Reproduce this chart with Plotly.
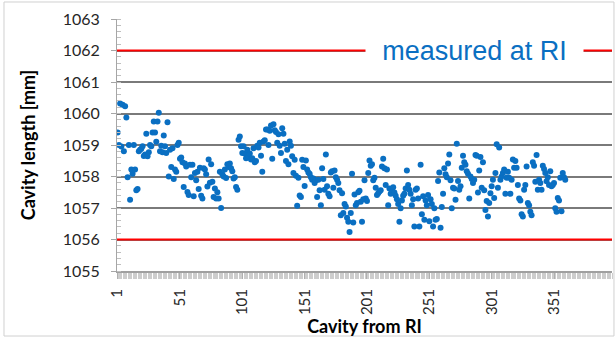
import plotly.graph_objects as go

# Cavity length readings [mm], cavity index 1..360
cavity_len_001_050 = [
    1059.40, 1059.00, 1060.32, 1058.95, 1060.28, 1058.80, 1060.23, 1059.87, 1057.98, 1059.00,
    1057.26, 1058.22, 1058.09, 1059.00, 1058.22, 1057.56, 1057.60, 1058.80, 1058.85, 1058.88,
    1058.96, 1058.65, 1058.70, 1059.36, 1058.64, 1058.77, 1059.00, 1058.96, 1059.40, 1059.75,
    1059.40, 1059.10, 1059.75, 1060.02, 1058.80, 1058.98, 1058.77, 1059.30, 1058.96, 1058.75,
    1059.72, 1058.00, 1058.85, 1058.30, 1058.90, 1057.92, 1058.22, 1058.15, 1059.00, 1059.07,
]
cavity_len_051_090 = [
    1058.56, 1058.60, 1058.45, 1057.67, 1058.41, 1058.32, 1057.51, 1057.41, 1058.37, 1057.98,
    1058.37, 1057.37, 1058.11, 1057.88, 1058.15, 1057.60, 1058.28, 1057.39, 1057.30, 1058.26,
    1058.22, 1058.07, 1057.68, 1058.54, 1057.80, 1058.39, 1057.83, 1057.35, 1057.62, 1057.30,
    1057.50, 1057.30, 1058.15, 1057.00, 1058.07, 1058.00, 1058.22, 1057.95, 1058.39, 1058.30,
]
cavity_len_091_140 = [
    1058.41, 1058.26, 1058.17, 1057.94, 1057.98, 1057.67, 1057.58, 1059.17, 1059.27, 1058.96,
    1058.75, 1058.96, 1058.73, 1058.58, 1058.85, 1058.60, 1058.73, 1058.54, 1058.58, 1058.90,
    1058.45, 1058.49, 1058.98, 1058.92, 1059.07, 1058.66, 1058.15, 1059.11, 1059.15, 1059.49,
    1059.49, 1059.00, 1059.45, 1059.62, 1058.56, 1059.66, 1059.47, 1059.41, 1059.07, 1059.34,
    1058.98, 1058.75, 1059.53, 1059.36, 1059.04, 1058.49, 1058.85, 1058.39, 1059.11, 1058.98,
]
cavity_len_141_185 = [
    1058.64, 1058.11, 1058.53, 1058.02, 1057.07, 1057.96, 1057.40, 1057.35, 1058.53, 1058.30,
    1057.70, 1058.51, 1058.22, 1058.13, 1058.09, 1057.98, 1057.90, 1057.94, 1057.79, 1057.88,
    1057.35, 1057.90, 1057.56, 1057.09, 1058.26, 1057.92, 1057.58, 1058.70, 1057.69, 1057.45,
    1057.37, 1058.13, 1058.17, 1057.64, 1058.19, 1057.98, 1057.90, 1057.79, 1057.56, 1056.77,
    1057.47, 1056.84, 1057.13, 1057.05, 1056.69,
]
cavity_len_186_235 = [
    1056.56, 1056.24, 1056.84, 1058.09, 1056.54, 1057.43, 1057.09, 1057.16, 1057.50, 1057.55,
    1057.20, 1056.56, 1057.28, 1057.88, 1057.30, 1057.22, 1058.11, 1058.51, 1058.34, 1058.39,
    1057.88, 1057.96, 1057.64, 1057.41, 1057.47, 1057.52, 1057.56, 1058.32, 1058.56, 1058.26,
    1057.73, 1058.22, 1057.09, 1057.62, 1057.45, 1057.58, 1057.66, 1057.49, 1057.39, 1057.28,
    1057.13, 1056.56, 1056.99, 1057.24, 1057.39, 1057.45, 1057.62, 1058.19, 1057.73, 1057.58,
]
cavity_len_236_284 = [
    1057.45, 1057.09, 1057.28, 1056.41, 1057.58, 1057.62, 1057.30, 1056.41, 1058.37, 1056.80,
    1057.37, 1056.63, 1057.24, 1057.09, 1057.41, 1056.58, 1057.28, 1057.13, 1056.41, 1056.99,
    1056.63, 1056.65, 1057.86, 1058.13, 1056.37, 1057.03, 1057.45, 1058.26, 1058.07, 1057.98,
    1058.41, 1058.70, 1057.88, 1056.99, 1057.64, 1057.62, 1057.26, 1059.04, 1057.86, 1057.58,
    1057.69, 1058.28, 1058.66, 1058.45, 1058.37, 1058.17, 1058.09, 1057.30, 1058.00,
]
cavity_len_285_331 = [
    1057.92, 1057.79, 1057.90, 1058.68, 1058.66, 1057.49, 1058.19, 1058.62, 1057.64, 1058.45,
    1057.56, 1056.94, 1057.22, 1056.73, 1057.16, 1057.47, 1057.69, 1057.90, 1057.32, 1058.11,
    1059.02, 1057.64, 1058.92, 1057.90, 1058.00, 1058.11, 1058.22, 1057.45, 1057.96, 1058.15,
    1057.96, 1057.45, 1057.90, 1058.54, 1058.28, 1058.49, 1058.28, 1057.73, 1057.30, 1057.24,
    1056.80, 1056.73, 1057.58, 1057.73, 1058.32, 1057.16, 1057.09,
]
cavity_len_332_360 = [
    1056.88, 1056.77, 1058.45, 1058.34, 1057.83, 1058.68, 1057.58, 1057.90, 1057.79, 1057.58,
    1058.34, 1058.24, 1058.11, 1057.85, 1057.98, 1057.73, 1058.17, 1057.69, 1057.73, 1057.79,
    1056.99, 1056.88, 1057.32, 1057.24, 1057.96, 1056.90, 1058.11, 1057.98, 1057.90,
]

cavity_length = (cavity_len_001_050 + cavity_len_051_090 + cavity_len_091_140 +
                 cavity_len_141_185 + cavity_len_186_235 + cavity_len_236_284 +
                 cavity_len_285_331 + cavity_len_332_360)
cavity_index = list(range(1, len(cavity_length) + 1))

x_tick_vals = [1, 51, 101, 151, 201, 251, 301, 351]
x_tick_text = ["1", "51", "101", "151", "201", "251", "301", "351"]
y_tick_vals = [1055, 1056, 1057, 1058, 1059, 1060, 1061, 1062, 1063]
limit_values = [1056, 1062]
label_text = "measured at RI"
x_title = "Cavity from RI"
y_title = "Cavity length [mm]"

BLUE = "#0a6fc2"
FONT = "Lato"

fig = go.Figure()
fig.add_trace(go.Scatter(
    x=cavity_index, y=cavity_length, mode="markers",
    marker=dict(color=BLUE, size=6, line=dict(width=0)),
    showlegend=False, hoverinfo="x+y",
))

for lim in limit_values:
    fig.add_shape(type="line", xref="paper", x0=0, x1=1, yref="y", y0=lim, y1=lim,
                  line=dict(color="#ff0000", width=2), layer="above")

# outer chart frame
fig.add_shape(type="rect", xref="paper", yref="paper",
              x0=-0.2283, x1=1.0040, y0=-0.2580, y1=1.0675,
              line=dict(color="#d0d0d0", width=1), layer="above")

fig.add_annotation(
    x=0.7232, xref="paper", xanchor="center", y=limit_values[1], yref="y", yanchor="middle",
    text=label_text, showarrow=False,
    font=dict(family="Liberation Sans, Arial", size=27, color=BLUE),
    bgcolor="white", width=213, height=30, borderpad=2, align="center",
)

fig.update_layout(
    width=616, height=338,
    margin=dict(l=117, r=4, t=19, b=67),
    paper_bgcolor="white", plot_bgcolor="white",
    font=dict(family=FONT, color="#262626"),
    xaxis=dict(
        range=[0.5, 397.5], tickmode="array", tickvals=x_tick_vals, ticktext=x_tick_text,
        tickangle=-90, tickfont=dict(family=FONT, size=15, color="#262626"),
        showgrid=False, zeroline=False,
        showline=True, linecolor="#a0a0a0", linewidth=2,
        ticks="outside", ticklen=6, tickcolor="#b0b0b0", tickwidth=1,
        minor=dict(ticks="outside", tickmode="linear", tick0=0.5, dtick=1,
                   ticklen=6, tickcolor="#cdcdcd", tickwidth=1, showgrid=False),
        ticklabelstandoff=4,
        title=dict(text="<b>" + x_title + "</b>", font=dict(family=FONT, size=18, color="#000000"),
                   standoff=2),
    ),
    yaxis=dict(
        range=[1055, 1063], tickmode="array", tickvals=y_tick_vals,
        tickfont=dict(family=FONT, size=16, color="#262626"),
        showgrid=True, gridcolor="#7a7a7a", gridwidth=1.5, zeroline=False,
        showline=True, linecolor="#a6a6a6", linewidth=1,
        ticks="outside", ticklen=5, tickcolor="#a6a6a6",
        minor=dict(ticks="inside", tickmode="linear", tick0=1055, dtick=0.2,
                   ticklen=4, tickcolor="#bfbfbf", showgrid=False),
        ticklabelstandoff=8,
        title=dict(text="<b>" + y_title + "</b>", font=dict(family=FONT, size=18, color="#000000"),
                   standoff=22),
    ),
)

fig.write_html("out.html", config={"displayModeBar": False},
               post_script="document.body.style.margin='0';")
